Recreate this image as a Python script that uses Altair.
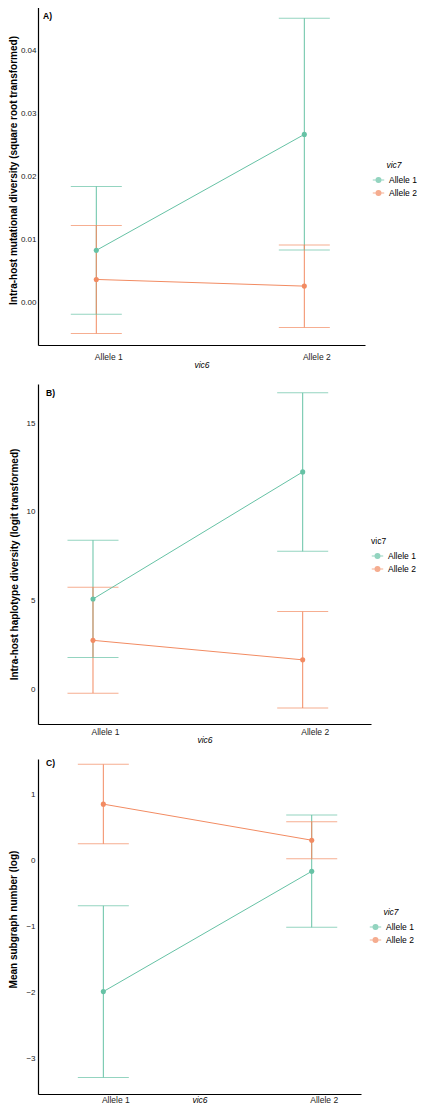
import altair as alt
import pandas as pd

# ---- data ----
vic6 = ["Allele 1", "Allele 1", "Allele 2", "Allele 2"]
vic7 = ["Allele 1", "Allele 2", "Allele 1", "Allele 2"]

a_mean = [0.0083, 0.00368, 0.02673, 0.00262]
a_low = [-0.00185, -0.0049, 0.00837, -0.00395]
a_high = [0.01847, 0.01225, 0.0452, 0.00916]

b_mean = [5.09, 2.76, 12.26, 1.66]
b_low = [1.79, -0.22, 7.78, -1.06]
b_high = [8.41, 5.76, 16.72, 4.38]

c_mean = [-1.99, 0.847, -0.17, 0.301]
c_low = [-3.29, 0.246, -1.018, 0.02]
c_high = [-0.692, 1.449, 0.682, 0.581]

a_ticks = [0.0, 0.01, 0.02, 0.03, 0.04]
b_ticks = [0, 5, 10, 15]
c_ticks = [-3, -2, -1, 0, 1]

alleles = ["Allele 1", "Allele 2"]
colors = ["#66c2a5", "#f28b62"]
FONT = "Liberation Sans"

SYMBOL = "M-1,0L1,0M-0.42,0a0.42,0.42 0 1,0 0.84,0a0.42,0.42 0 1,0 -0.84,0Z"


def panel(mean, low, high, letter, ytitle, ydomain, yticks, yfmt, width, height,
          pad, align, xlabel_pad, xtitle_pad, ytitle_pad, ylabel_pad, ytitle_y,
          leg_x, leg_y, letter_x, letter_y, title_italic=True):
    df = pd.DataFrame({"vic6": vic6, "vic7": vic7, "mean": mean,
                       "low": low, "high": high})
    yscale = alt.Scale(domain=ydomain, nice=False, zero=False)
    x = alt.X("vic6:N",
              scale=alt.Scale(type="point", domain=alleles, padding=pad, align=align),
              axis=alt.Axis(title="vic6", labelAngle=0, labelOffset=12,
                            labelPadding=xlabel_pad, titlePadding=xtitle_pad,
                            titleFontStyle="italic", titleFontWeight="normal",
                            titleFontSize=8.5, labelFontSize=8.5))
    color = alt.Color("vic7:N", scale=alt.Scale(domain=alleles, range=colors),
                      legend=alt.Legend(title="vic7", orient="none",
                                        legendX=leg_x, legendY=leg_y,
                                        titleFontStyle="italic" if title_italic else "normal",
                                        titleFontWeight="normal",
                                        titleFontSize=8.5, labelFontSize=8.5,
                                        titleAnchor="middle" if title_italic else "start",
                                        symbolType=SYMBOL, symbolSize=130,
                                        symbolStrokeWidth=1.2, rowPadding=1,
                                        titlePadding=4, padding=0,
                                        labelOffset=4))
    yaxis = alt.Axis(title=ytitle, values=yticks, format=yfmt, labelPadding=ylabel_pad,
                     titlePadding=ytitle_pad, titleFontWeight="bold",
                     titleFontSize=10, labelFontSize=8, titleY=ytitle_y)
    base = alt.Chart(df).encode(x=x, color=color)
    rule = base.mark_rule(strokeWidth=1).encode(
        y=alt.Y("low:Q", scale=yscale, axis=yaxis, title=ytitle), y2="high:Q")
    cap_lo = base.mark_tick(size=51, thickness=1, orient="horizontal").encode(
        y=alt.Y("low:Q", scale=yscale, title=ytitle))
    cap_hi = base.mark_tick(size=51, thickness=1, orient="horizontal").encode(
        y=alt.Y("high:Q", scale=yscale, title=ytitle))
    line = base.mark_line(strokeWidth=1).encode(
        y=alt.Y("mean:Q", scale=yscale, title=ytitle))
    pts = base.mark_point(filled=True, size=26, opacity=1).encode(
        y=alt.Y("mean:Q", scale=yscale, title=ytitle))
    lab = alt.Chart(pd.DataFrame({"t": [letter]})).mark_text(
        align="left", baseline="middle", fontWeight="bold", fontSize=8.5,
        font=FONT, color="black").encode(
        text="t:N", x=alt.value(letter_x), y=alt.value(letter_y))
    return alt.layer(rule, cap_lo, cap_hi, line, pts, lab).properties(
        width=width, height=height)


A = panel(a_mean, a_low, a_high, "A)",
          "Intra-host  mutational diversity (square root transformed)",
          [-0.00674, 0.0473], a_ticks, ".2f", 327, 340,
          0.286, 0.49, 7, 0, 2, 2, 165, 334, 156, 5, 11)
B = panel(b_mean, b_low, b_high, "B)",
          "Intra-host  haplotype diversity (logit transformed)",
          [-1.96, 17.22], b_ticks, "d", 333, 340,
          0.294, 0.446, 3, 0, 7, 3, 180, 333, 153, 8, 9, title_italic=False)
C = panel(c_mean, c_low, c_high, "C)",
          "Mean subgraph number (log)",
          [-3.54, 1.53], c_ticks, "d", 323, 335,
          0.275, 0.57, 1, -8, 7, 3, 160, 331, 149, 8, 4)

chart = alt.vconcat(A, B, C, spacing=15).resolve_scale(
    color="independent").properties(
    padding={"left": 0, "top": -3, "right": 0, "bottom": 0}).configure_view(
    stroke=None).configure_axis(
    grid=False, ticks=False, domainColor="black", domainWidth=1.2,
    labelFont=FONT, titleFont=FONT, labelColor="#222222", titleColor="black"
).configure_legend(labelFont=FONT, titleFont=FONT, labelColor="black",
                   titleColor="black").configure_text(font=FONT)

chart.save("out.html", embed_options={"renderer": "svg", "actions": False})
